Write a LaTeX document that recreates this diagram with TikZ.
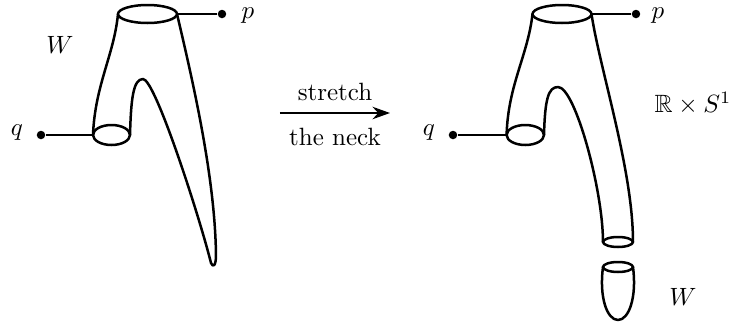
\documentclass[tikz,border=0pt]{standalone}
\usepackage{amssymb}
\usetikzlibrary{arrows.meta}
\begin{document}
\begin{tikzpicture}[x=0.4pt,y=-0.4pt,
  surf/.style={line width=1pt, line join=round, line cap=round},
  lead/.style={line width=0.5pt},
  dotmark/.style={circle, fill=black, inner sep=0pt, minimum size=3.4pt},
  lbl/.style={inner sep=1pt}]
\useasboundingbox (0,0) rectangle (736,327);

% ---------- left surface ----------
\draw[surf] (147.5,14) ellipse [x radius=29.5, y radius=9];
\draw[surf] (111.5,135) ellipse [x radius=18.5, y radius=10];
\coordinate (LtopL) at (118,14);
\coordinate (LtopR) at (177,14);
\coordinate (LlowL) at (93,135);
\coordinate (LlowR) at (130,135);
\coordinate (Lpeak) at (143,79);
\coordinate (Ltip) at (211,263);
\coordinate (Ltip2) at (216,255);
\draw[surf] (LtopL) .. controls (114,55) and (95,85) .. (LlowL);
\draw[surf] (LlowR) .. controls (131,100) and (133,79) .. (Lpeak)
  .. controls (155,79) and (199,215) .. (Ltip)
  .. controls (213,268) and (216,266) .. (Ltip2)
  .. controls (215,180) and (195,90) .. (LtopR);

\node[dotmark] (Lp) at (222,14) {};
\node[dotmark] (Lq) at (41,135) {};
\draw[lead] (LtopR) -- (Lp);
\draw[lead] (LlowL) -- (Lq);
\node[lbl] (Lplab) at (248,16) {$p$};
\node[lbl] (Lqlab) at (17,133) {$q$};
\node[lbl] (LW) at (60,45) {$W$};

% ---------- arrow ----------
\coordinate (A1) at (280,113);
\coordinate (A2) at (390,113);
\draw[line width=0.8pt, -{Stealth[length=7pt,width=5pt]}] (A1) -- (A2);
\node[lbl] (str) at (335,92) {stretch};
\node[lbl] (neck) at (335,137) {the neck};

% ---------- right surface ----------
\draw[surf] (562,14) ellipse [x radius=29.5, y radius=9];
\draw[surf] (525.3,135) ellipse [x radius=18.7, y radius=10];
\draw[surf] (618,242) ellipse [x radius=15, y radius=5];
\coordinate (RtopL) at (532.5,14);
\coordinate (RtopR) at (591.5,14);
\coordinate (RlowL) at (506.6,135);
\coordinate (RlowR) at (544,135);
\coordinate (Rpeak) at (558,87);
\coordinate (RneckL) at (603,242);
\coordinate (RneckR) at (633,242);
\draw[surf] (RtopL) .. controls (528,55) and (508,85) .. (RlowL);
\draw[surf] (RlowR) .. controls (545,100) and (548,87) .. (Rpeak)
  .. controls (575,87) and (603,190) .. (RneckL);
\draw[surf] (RtopR) .. controls (600,70) and (633,170) .. (RneckR);

\node[dotmark] (Rp) at (636,14) {};
\node[dotmark] (Rq) at (453,135) {};
\draw[lead] (RtopR) -- (Rp);
\draw[lead] (RlowL) -- (Rq);
\node[lbl] (Rplab) at (658,16) {$p$};
\node[lbl] (Rqlab) at (429,133) {$q$};
\node[lbl] (RS) at (693,103) {$\mathbb{R}\times S^1$};

% ---------- cap ----------
\draw[surf] (618,267) ellipse [x radius=15, y radius=5];
\coordinate (CapL) at (603,267);
\coordinate (CapR) at (633,267);
\coordinate (CapB) at (618,320);
\draw[surf] (CapL) .. controls (599,297) and (607,320) .. (CapB)
  .. controls (629,320) and (637,297) .. (CapR);
\node[lbl] (RW) at (683,297) {$W$};
\end{tikzpicture}
\end{document}
